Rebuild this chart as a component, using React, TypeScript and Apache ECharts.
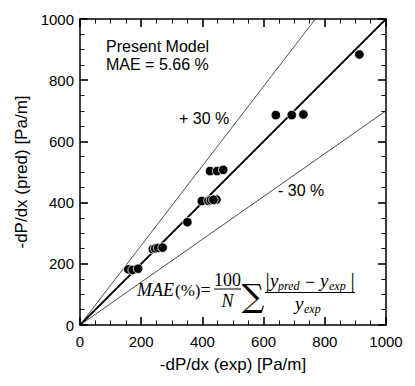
import React, { useEffect, useRef } from "react";
import * as echarts from "echarts";

// Experimental vs predicted pressure gradient [Pa/m]
const expValues = [158, 172, 190, 238, 246, 255, 270, 351, 398, 420, 428, 446, 436, 425, 448, 468, 640, 692, 730, 913];
const predValues = [182, 180, 184, 248, 250, 252, 253, 336, 405, 406, 408, 410, 409, 503, 503, 507, 686, 686, 688, 884];

const axisTicks = [0, 200, 400, 600, 800, 1000];
const parityLineEnds = [0, 1000];
const bandSlopes = [1.3, 0.7];

const infoTexts = ["Present Model", "MAE = 5.66 %"];
const bandTexts = ["+ 30 %", "- 30 %"];

const SANS = "Liberation Sans, Arial, sans-serif";
const SERIF = "Liberation Serif, Times New Roman, serif";

function App() {
  const ref = useRef<HTMLDivElement>(null);

  useEffect(() => {
    if (!ref.current) return;
    document.body.style.margin = "0";
    const chart = echarts.init(ref.current, null, { renderer: "svg" });

    const axMin = axisTicks[0];
    const axMax = axisTicks[axisTicks.length - 1];
    const axInterval = axisTicks[1] - axisTicks[0];

    const labelStyle = (show: boolean, margin: number) => ({
      show,
      color: "#000",
      fontSize: 15,
      fontFamily: SANS,
      margin,
      formatter: (v: number) => String(v),
    });

    const common = (labels: boolean, margin: number) => ({
      type: "value" as const,
      min: axMin,
      max: axMax,
      interval: axInterval,
      axisLine: { show: true, onZero: false, lineStyle: { color: "#000", width: 1.5 } },
      axisTick: { show: true, inside: true, length: 8, lineStyle: { color: "#000", width: 1.6 } },
      minorTick: { show: true, splitNumber: 4, length: 4.5, lineStyle: { color: "#000", width: 1 } },
      splitLine: { show: false },
      axisLabel: labelStyle(labels, margin),
    });

    const scatterData = expValues.map((v, i) => [v, predValues[i]]);
    const bandLine = (s: number) =>
      [[0, 0], s > 1 ? [axMax / s, axMax] : [axMax, axMax * s]];

    const txt = (
      text: string,
      x: number,
      y: number,
      size: number,
      family: string,
      opts: { align?: string; italic?: boolean } = {}
    ) => ({
      type: "text",
      x,
      y,
      silent: true,
      style: {
        text,
        fill: "#000",
        fontSize: size,
        fontFamily: family,
        fontStyle: opts.italic ? "italic" : "normal",
        align: opts.align || "left",
        verticalAlign: "middle",
        textAlign: opts.align || "left",
        textVerticalAlign: "middle",
      },
    });

    const option = {
      animation: false,
      backgroundColor: "#fff",
      grid: { left: 80, right: 29, top: 19, bottom: 61, containLabel: false },
      xAxis: [
        {
          ...common(true, 9),
          position: "bottom",
          name: "-dP/dx (exp) [Pa/m]",
          nameLocation: "middle",
          nameGap: 31,
          nameTextStyle: { color: "#000", fontSize: 17, fontFamily: SANS },
        },
        { ...common(false, 9), position: "top" },
      ],
      yAxis: [
        {
          ...common(true, 6),
          position: "left",
          name: "-dP/dx (pred) [Pa/m]",
          nameLocation: "middle",
          nameGap: 33,
          nameTextStyle: { color: "#000", fontSize: 17, fontFamily: SANS },
        },
        { ...common(false, 6), position: "right" },
      ],
      series: [
        {
          type: "line",
          data: parityLineEnds.map((v) => [v, v]),
          showSymbol: false,
          lineStyle: { color: "#000", width: 1.8 },
          silent: true,
          z: 2,
        },
        ...bandSlopes.map((s) => ({
          type: "line",
          data: bandLine(s),
          showSymbol: false,
          lineStyle: { color: "#222", width: 0.8 },
          silent: true,
          z: 2,
        })),
        {
          type: "scatter",
          data: scatterData,
          symbol: "circle",
          symbolSize: 9.5,
          itemStyle: { color: "#000", borderColor: "#fff", borderWidth: 0.8, opacity: 1 },
          z: 3,
        },
      ],
      graphic: [
        txt(infoTexts[0], 106, 46, 16, SANS),
        txt(infoTexts[1], 106, 64.5, 16, SANS),
        txt(bandTexts[0], 179, 118, 16, SANS),
        txt(bandTexts[1], 278, 190, 16, SANS),
        // MAE formula
        txt("MAE", 137, 290, 18, SERIF, { italic: true }),
        txt("(%)", 175, 290, 17, SERIF),
        txt("=", 205.5, 290, 18, SERIF, { align: "center" }),
        txt("100", 227.5, 279.5, 18, SERIF, { align: "center" }),
        {
          type: "line",
          silent: true,
          shape: { x1: 214, y1: 289, x2: 241, y2: 289 },
          style: { stroke: "#000", lineWidth: 1 },
        },
        txt("N", 227.5, 301, 18, SERIF, { align: "center", italic: true }),
        txt("\u2211", 253, 296, 32, "DejaVu Serif, serif", { align: "center" }),
        txt("|", 265.5, 280, 21, SERIF),
        txt("y", 270, 280, 19, SERIF, { italic: true }),
        txt("pred", 278, 286, 12, SERIF, { italic: true }),
        txt("\u2212", 305, 282, 18, SERIF),
        txt("y", 320, 280, 19, SERIF, { italic: true }),
        txt("exp", 329, 286, 12, SERIF, { italic: true }),
        txt("|", 350.5, 280, 21, SERIF),
        {
          type: "line",
          silent: true,
          shape: { x1: 265, y1: 292.5, x2: 355, y2: 292.5 },
          style: { stroke: "#000", lineWidth: 1 },
        },
        txt("y", 295, 303, 19, SERIF, { italic: true }),
        txt("exp", 304, 309, 12, SERIF, { italic: true }),
      ],
    };

    chart.setOption(option as any);
    return () => chart.dispose();
  }, []);

  return (
    <div
      ref={ref}
      style={{ position: "fixed", left: 0, top: 0, width: 415, height: 386, background: "#fff" }}
    />
  );
}

export default App;
